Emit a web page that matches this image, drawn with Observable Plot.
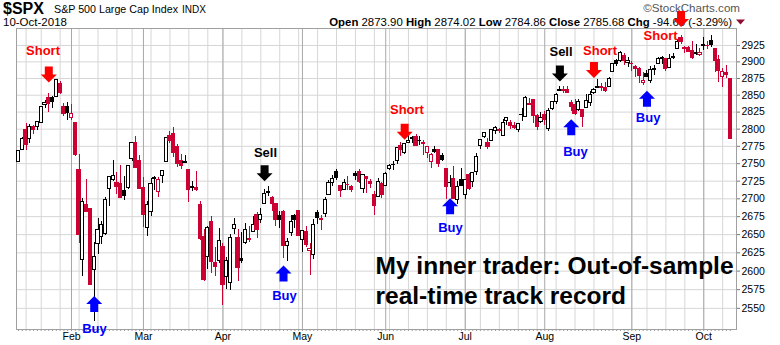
<!DOCTYPE html>
<html><head><meta charset="utf-8">
<script src="https://cdn.jsdelivr.net/npm/d3@7"></script>
<script src="https://cdn.jsdelivr.net/npm/@observablehq/plot@0.6"></script>
<style>
body{margin:0;background:#fff;}
#wrap{position:relative;width:780px;height:345px;overflow:hidden;background:#fff;font-family:"Liberation Sans",Arial,sans-serif;}
#wrap svg{position:absolute;left:0;top:0;}
</style></head><body><div id="wrap"></div>
<script>
// ---- data (S&P 500 daily, 11-Jan-2018 .. 10-Oct-2018) ----
const dates = ["2018-01-11","2018-01-12","2018-01-16","2018-01-17","2018-01-18","2018-01-19","2018-01-22","2018-01-23","2018-01-24","2018-01-25","2018-01-26","2018-01-29","2018-01-30","2018-01-31",
"2018-02-01","2018-02-02","2018-02-05","2018-02-06","2018-02-07","2018-02-08","2018-02-09","2018-02-12","2018-02-13","2018-02-14","2018-02-15","2018-02-16","2018-02-20","2018-02-21","2018-02-22","2018-02-23","2018-02-26","2018-02-27","2018-02-28",
"2018-03-01","2018-03-02","2018-03-05","2018-03-06","2018-03-07","2018-03-08","2018-03-09","2018-03-12","2018-03-13","2018-03-14","2018-03-15","2018-03-16","2018-03-19","2018-03-20","2018-03-21","2018-03-22","2018-03-23","2018-03-26","2018-03-27","2018-03-28","2018-03-29",
"2018-04-02","2018-04-03","2018-04-04","2018-04-05","2018-04-06","2018-04-09","2018-04-10","2018-04-11","2018-04-12","2018-04-13","2018-04-16","2018-04-17","2018-04-18","2018-04-19","2018-04-20","2018-04-23","2018-04-24","2018-04-25","2018-04-26","2018-04-27","2018-04-30",
"2018-05-01","2018-05-02","2018-05-03","2018-05-04","2018-05-07","2018-05-08","2018-05-09","2018-05-10","2018-05-11","2018-05-14","2018-05-15","2018-05-16","2018-05-17","2018-05-18","2018-05-21","2018-05-22","2018-05-23","2018-05-24","2018-05-25","2018-05-29","2018-05-30","2018-05-31",
"2018-06-01","2018-06-04","2018-06-05","2018-06-06","2018-06-07","2018-06-08","2018-06-11","2018-06-12","2018-06-13","2018-06-14","2018-06-15","2018-06-18","2018-06-19","2018-06-20","2018-06-21","2018-06-22","2018-06-25","2018-06-26","2018-06-27","2018-06-28","2018-06-29",
"2018-07-02","2018-07-03","2018-07-05","2018-07-06","2018-07-09","2018-07-10","2018-07-11","2018-07-12","2018-07-13","2018-07-16","2018-07-17","2018-07-18","2018-07-19","2018-07-20","2018-07-23","2018-07-24","2018-07-25","2018-07-26","2018-07-27","2018-07-30","2018-07-31",
"2018-08-01","2018-08-02","2018-08-03","2018-08-06","2018-08-07","2018-08-08","2018-08-09","2018-08-10","2018-08-13","2018-08-14","2018-08-15","2018-08-16","2018-08-17","2018-08-20","2018-08-21","2018-08-22","2018-08-23","2018-08-24","2018-08-27","2018-08-28","2018-08-29","2018-08-30","2018-08-31",
"2018-09-04","2018-09-05","2018-09-06","2018-09-07","2018-09-10","2018-09-11","2018-09-12","2018-09-13","2018-09-14","2018-09-17","2018-09-18","2018-09-19","2018-09-20","2018-09-21","2018-09-24","2018-09-25","2018-09-26","2018-09-27","2018-09-28",
"2018-10-01","2018-10-02","2018-10-03","2018-10-04","2018-10-05","2018-10-08","2018-10-09","2018-10-10"];

const open = [2752.97,2770.18,2798.96,2784.99,2802.40,2802.60,2809.16,2835.05,2845.42,2846.24,2847.48,2867.23,2832.74,2832.41,
2816.45,2808.92,2741.06,2614.78,2690.95,2685.01,2601.78,2636.75,2646.27,2651.21,2713.46,2727.14,2722.99,2720.53,2710.42,2715.80,2757.37,2780.45,2753.78,
2715.22,2658.89,2681.06,2730.18,2710.18,2732.75,2752.91,2790.54,2792.31,2774.06,2754.27,2750.57,2741.38,2715.05,2714.99,2691.36,2646.71,2619.35,2667.57,2611.30,2614.41,
2633.45,2592.17,2584.04,2657.36,2645.82,2617.18,2638.41,2643.89,2653.83,2676.90,2670.10,2692.74,2710.11,2701.16,2692.56,2675.40,2680.80,2634.92,2651.65,2675.47,2682.51,
2642.96,2654.24,2628.08,2621.45,2680.34,2670.26,2678.12,2705.02,2722.70,2738.47,2718.59,2712.62,2719.71,2717.35,2735.39,2738.34,2713.98,2730.94,2723.60,2705.11,2702.43,2720.98,
2718.70,2741.67,2748.46,2753.25,2774.84,2765.84,2780.18,2785.60,2787.94,2783.21,2777.78,2765.79,2752.01,2769.73,2769.28,2760.79,2742.94,2722.12,2728.45,2698.69,2727.13,
2704.95,2733.27,2724.19,2737.68,2775.62,2788.56,2779.82,2783.14,2796.93,2797.36,2789.34,2811.35,2809.37,2804.55,2799.17,2820.68,2817.73,2835.49,2842.35,2819.00,2809.73,
2821.17,2800.48,2829.62,2840.29,2855.92,2856.79,2857.19,2838.90,2835.46,2827.88,2827.95,2831.44,2838.32,2853.93,2861.51,2860.99,2860.29,2862.35,2884.69,2901.45,2900.62,2908.94,2898.37,
2896.96,2891.59,2888.64,2868.26,2881.39,2871.57,2888.29,2896.85,2906.38,2903.83,2890.74,2906.60,2919.73,2936.76,2921.83,2921.75,2916.98,2911.65,2910.03,
2926.29,2923.80,2931.69,2919.35,2902.54,2877.53,2882.51,2873.90];

const high = [2767.56,2787.85,2807.54,2807.04,2805.83,2810.33,2833.03,2842.24,2852.97,2848.56,2872.87,2870.62,2837.75,2839.26,
2835.96,2808.92,2763.39,2701.04,2727.67,2685.27,2638.67,2672.61,2668.84,2702.10,2731.51,2754.42,2737.60,2747.75,2731.26,2747.76,2780.64,2789.15,2761.52,
2730.89,2696.25,2728.09,2732.08,2730.60,2740.45,2786.57,2796.98,2801.90,2777.11,2763.03,2761.85,2741.38,2724.22,2739.14,2695.68,2657.67,2661.36,2674.78,2632.65,2659.07,
2638.30,2619.14,2649.86,2672.08,2656.88,2653.55,2665.45,2661.43,2674.72,2680.26,2686.49,2713.34,2717.49,2702.84,2693.94,2682.86,2683.55,2645.30,2676.48,2677.35,2682.87,
2655.27,2660.87,2637.14,2670.93,2683.35,2676.34,2701.27,2726.11,2732.86,2742.10,2718.59,2727.76,2731.96,2719.50,2739.19,2742.24,2733.33,2731.97,2727.36,2710.67,2729.34,2722.50,
2736.93,2749.16,2752.61,2772.39,2779.90,2779.39,2790.21,2789.80,2791.47,2789.06,2782.81,2774.99,2765.05,2774.86,2769.28,2764.17,2742.94,2732.91,2746.09,2724.34,2743.26,
2727.26,2736.58,2737.83,2764.41,2784.65,2795.58,2785.91,2799.22,2804.53,2801.19,2814.19,2816.76,2812.05,2809.70,2808.61,2829.99,2848.03,2845.57,2843.17,2821.74,2824.46,
2825.83,2829.91,2840.38,2853.29,2863.43,2862.44,2862.48,2842.20,2843.40,2843.11,2827.95,2850.49,2855.63,2859.76,2873.23,2867.54,2868.78,2876.16,2898.25,2903.77,2916.50,2912.46,2906.32,
2900.18,2894.21,2892.05,2883.81,2886.93,2892.52,2894.65,2906.76,2908.30,2904.65,2911.17,2912.36,2934.80,2940.91,2923.79,2923.95,2931.15,2927.22,2920.53,
2937.06,2931.42,2939.86,2919.78,2909.64,2889.45,2894.83,2874.02];

const low = [2752.78,2769.64,2768.64,2778.38,2792.56,2798.08,2808.12,2830.59,2824.81,2830.94,2846.18,2851.48,2818.27,2813.04,
2812.70,2759.97,2638.17,2593.07,2681.33,2580.56,2532.69,2622.45,2637.08,2648.87,2689.82,2725.11,2706.76,2701.29,2697.77,2713.74,2753.78,2744.22,2713.54,
2659.65,2647.32,2675.75,2711.26,2701.74,2721.92,2751.54,2779.26,2758.68,2744.38,2741.47,2749.97,2694.59,2710.05,2709.79,2641.59,2585.89,2601.81,2596.12,2593.06,2609.72,
2553.80,2575.49,2573.61,2649.58,2586.27,2610.79,2635.78,2639.25,2653.83,2645.05,2665.16,2692.05,2703.63,2681.90,2660.61,2657.99,2617.32,2612.67,2647.16,2659.01,2648.04,
2625.41,2631.70,2594.62,2615.32,2664.70,2655.20,2674.14,2704.54,2717.45,2725.47,2701.91,2712.17,2711.36,2709.18,2725.70,2721.88,2707.38,2707.38,2714.99,2676.81,2702.43,2700.68,
2718.70,2740.54,2739.51,2748.46,2760.16,2763.59,2780.17,2778.78,2774.65,2776.52,2761.73,2757.12,2743.19,2763.91,2744.39,2752.68,2698.67,2715.60,2699.38,2691.99,2718.03,
2698.95,2711.16,2716.02,2733.52,2770.73,2786.24,2770.77,2781.53,2791.69,2793.39,2789.24,2805.89,2799.77,2800.01,2795.14,2811.12,2817.73,2835.26,2808.34,2798.11,2808.06,
2805.85,2796.34,2827.37,2835.98,2855.92,2853.09,2851.98,2825.81,2819.88,2826.58,2802.49,2831.44,2833.73,2850.62,2861.32,2856.05,2854.03,2862.35,2884.69,2893.50,2898.40,2895.22,2891.73,
2885.13,2876.92,2867.29,2864.12,2875.94,2866.78,2879.20,2896.39,2895.77,2886.16,2890.43,2903.82,2919.73,2927.11,2912.63,2913.70,2903.28,2909.27,2907.50,
2917.91,2919.37,2921.36,2883.92,2869.29,2862.08,2874.27,2784.86];

const close = [2767.56,2786.24,2776.42,2802.56,2798.03,2810.30,2832.97,2839.13,2837.54,2839.25,2872.87,2853.53,2822.43,2823.81,
2821.98,2762.13,2648.94,2695.14,2681.66,2581.00,2619.55,2656.00,2662.94,2698.63,2731.20,2732.22,2716.26,2701.33,2703.96,2747.30,2779.60,2744.28,2713.83,
2677.67,2691.25,2720.94,2728.12,2726.80,2738.97,2786.57,2783.02,2765.31,2749.48,2747.33,2752.01,2712.92,2716.94,2711.93,2643.69,2588.26,2658.55,2612.62,2605.00,2640.87,
2581.88,2614.45,2644.69,2662.84,2604.47,2613.16,2656.87,2642.19,2663.99,2656.30,2677.84,2706.39,2708.64,2693.13,2670.14,2670.29,2634.56,2639.40,2666.94,2669.91,2648.05,
2654.80,2635.67,2629.73,2663.42,2672.63,2671.92,2697.79,2723.07,2727.72,2730.13,2711.45,2722.46,2720.13,2712.97,2733.01,2724.44,2733.29,2727.76,2721.33,2689.86,2724.01,2705.27,
2734.62,2746.87,2748.80,2772.35,2770.37,2779.03,2782.00,2786.85,2775.63,2782.49,2779.66,2773.75,2762.59,2767.32,2749.76,2754.88,2717.07,2723.06,2699.63,2716.31,2718.37,
2726.71,2713.22,2736.61,2759.82,2784.17,2793.84,2774.02,2798.29,2801.31,2798.43,2809.55,2815.62,2804.49,2801.83,2806.98,2820.40,2846.07,2837.44,2818.82,2802.60,2816.29,
2813.36,2827.22,2840.35,2850.40,2858.45,2857.70,2853.58,2833.28,2821.93,2839.96,2818.37,2840.69,2850.13,2857.05,2862.96,2861.82,2856.98,2874.69,2896.74,2897.52,2914.04,2901.13,2901.52,
2896.72,2888.60,2878.05,2871.68,2877.13,2887.89,2888.92,2904.18,2904.98,2888.80,2904.31,2907.95,2930.75,2929.67,2919.37,2915.56,2905.97,2914.00,2913.98,
2924.59,2923.43,2925.51,2901.61,2885.57,2884.43,2880.34,2785.68];

const priorClose = 2748.23; // close of 10-Jan-2018, colours the first candle

const yTicks = [2550,2575,2600,2625,2650,2675,2700,2725,2750,2775,2800,2825,2850,2875,2900,2925];

// trade signals: arrow day index, arrow level, label position
const sigType  = ["Short","Buy","Sell","Buy","Short","Buy","Sell","Buy","Short","Buy","Short"];
const sigDay   = [8,20,65,70,102,114,143,146,152,166,175];
const sigLevel = [2881.1,2555.7,2736.3,2596.7,2796.1,2689.6,2882.6,2802.6,2887.9,2844.6,2965.7];
const labDay   = [6.47,20.07,65.24,70.26,102.6,114.1,143.3,147.1,153.6,166.3,169.6];
const labLevel = [2909.8,2517.4,2759.2,2561.0,2821.7,2653.4,2908.3,2760.6,2909.8,2810.0,2932.6];

const noteLines = ["My inner trader: Out-of-sample","real-time track record"];
const noteDay = 94.3;
const noteLevel = [2596.0,2555.7];

// ---- build ----
const RED = "#cc0033";
const rows = dates.map((d, i) => {
  const prev = i === 0 ? priorClose : close[i-1];
  const color = close[i] < prev ? RED : "#000000";
  return {i, date: new Date(d), o: open[i], h: high[i], l: low[i], c: close[i], color,
          fill: close[i] >= open[i] ? "#ffffff" : color};
});
const allIdx = rows.map(r => r.i);
const monthStarts = rows.filter((r, k) => k > 0 && r.date.getUTCMonth() !== rows[k-1].date.getUTCMonth()).map(r => r.i);
const weekStarts = rows.filter((r, k) => k > 0 && r.date.getUTCDay() <= rows[k-1].date.getUTCDay()).map(r => r.i);
const fmtMonth = d3.utcFormat("%b");

const sigColor = {Short: "#ff0000", Buy: "#0000ff", Sell: "#000000"};
const signals = sigType.map((t, k) => ({type: t, day: sigDay[k], level: sigLevel[k], lday: labDay[k], llevel: labLevel[k], color: sigColor[t]}));
const notes = noteLines.map((t, k) => ({text: t, day: noteDay, level: noteLevel[k]}));

const arrowDown = {draw(ctx, size) {
  const r = Math.sqrt(size / Math.PI), w = r / 2;
  ctx.moveTo(-w, -r); ctx.lineTo(w, -r); ctx.lineTo(w, 0); ctx.lineTo(r, 0);
  ctx.lineTo(0, r); ctx.lineTo(-r, 0); ctx.lineTo(-w, 0); ctx.closePath();
}};
const arrowUp = {draw(ctx, size) {
  const r = Math.sqrt(size / Math.PI), w = r / 2;
  ctx.moveTo(-w, r); ctx.lineTo(w, r); ctx.lineTo(w, 0); ctx.lineTo(r, 0);
  ctx.lineTo(0, -r); ctx.lineTo(-r, 0); ctx.lineTo(-w, 0); ctx.closePath();
}};

// header (drawn beneath the chart so the last arrow overlaps it)
const hdr = d3.create("svg").attr("width", 780).attr("height", 40)
  .attr("font-family", "Liberation Sans, Arial, sans-serif");
hdr.append("text").attr("x", 3).attr("y", 14).attr("font-size", 16).attr("font-weight", "bold").text("$SPX");
hdr.append("text").attr("x", 54).attr("y", 13).attr("font-size", 10.7).text("S&P 500 Large Cap Index");
hdr.append("text").attr("x", 182).attr("y", 13).attr("font-size", 10).text("INDX");
hdr.append("text").attr("x", 3).attr("y", 26).attr("font-size", 11.5).text("10-Oct-2018");
hdr.append("text").attr("x", 740).attr("y", 12).attr("font-size", 11.6).attr("fill", "#555").attr("text-anchor", "end").text("\u00a9StockCharts.com");
const q = hdr.append("text").attr("x", 732).attr("y", 25.5).attr("font-size", 11.4).attr("text-anchor", "end");
[["Open","2873.90"],["High","2874.02"],["Low","2784.86"],["Close","2785.68"],["Chg","-94.66 (-3.29%)"]].forEach(([k, v], n) => {
  q.append("tspan").attr("font-weight", "bold").text((n ? " " : "") + k);
  q.append("tspan").text(" " + v);
});
hdr.append("path").attr("d", "M736,19.5 L745,19.5 L740.5,24.5 Z").attr("fill", "#8b1030");
document.getElementById("wrap").append(hdr.node());

const chart = Plot.plot({
  width: 780, height: 345,
  marginTop: 28, marginBottom: 16, marginLeft: 16, marginRight: 44,
  x: {type: "linear", domain: [-0.53, 189.65]},
  y: {type: "log", domain: [2522, 2951]},
  style: {fontFamily: "Liberation Sans, Arial, sans-serif", background: "transparent", overflow: "visible", color: "#000"},
  marks: [
    Plot.gridY(yTicks, {stroke: "#d6d6d6", strokeOpacity: 1}),
    Plot.gridX(weekStarts, {stroke: "#d6d6d6", strokeOpacity: 1}),
    Plot.gridX(monthStarts, {stroke: "#a8a8a8", strokeOpacity: 1}),
    Plot.axisY(yTicks, {anchor: "right", tickSize: 3, tickPadding: 2, fontSize: 10.5, tickFormat: d => String(d), label: null, stroke: "#777"}),
    Plot.axisX(allIdx, {anchor: "bottom", tickSize: 2, tickFormat: () => "", label: null, stroke: "#999"}),
    Plot.axisX(monthStarts, {anchor: "bottom", tickSize: 0, tickPadding: 3, fontSize: 10.5, tickFormat: i => fmtMonth(rows[i].date), label: null}),
    Plot.frame({stroke: "#a0a0a0"}),
    Plot.ruleX(rows, {x: "i", y1: "l", y2: "h", stroke: "color", shapeRendering: "crispEdges"}),
    Plot.rect(rows, {x1: d => d.i - 0.42, x2: d => d.i + 0.42, y1: "o", y2: "c", fill: "fill", stroke: "color", shapeRendering: "crispEdges"}),
    Plot.dot(signals.filter(s => s.type !== "Buy"), {x: "day", y: "level", r: 8, symbol: arrowDown, fill: "color", stroke: "none"}),
    Plot.dot(signals.filter(s => s.type === "Buy"), {x: "day", y: "level", r: 8, symbol: arrowUp, fill: "color", stroke: "none"}),
    Plot.text(signals, {x: "lday", y: "llevel", text: "type", fill: "color", fontSize: 13, fontWeight: "bold", lineAnchor: "bottom", textAnchor: "middle"}),
    Plot.text(notes, {x: "day", y: "level", text: "text", fontSize: 24.5, fontWeight: "bold", lineAnchor: "bottom", textAnchor: "start", fill: "#000"})
  ]
});
document.getElementById("wrap").append(chart);
</script>
</body></html>
